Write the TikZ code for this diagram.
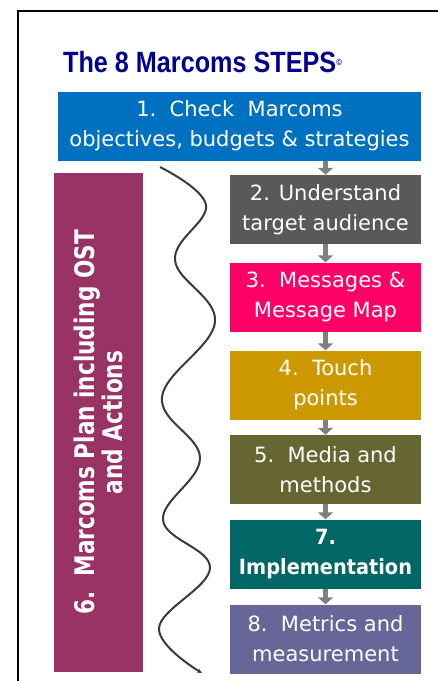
\documentclass[tikz,border=0pt]{standalone}
\usepackage{fontspec}
\setmainfont{DejaVu Sans}
\newfontfamily\boxfont{DejaVu Sans}
\newfontfamily\boxboldfont{DejaVu Sans}[FakeStretch=0.92]
\newfontfamily\sidefont{DejaVu Sans}[FakeStretch=0.8]
\newfontfamily\titlefont{Liberation Sans}[FakeStretch=0.86]
\usetikzlibrary{arrows.meta, positioning, calc}

\definecolor{titleblue}{RGB}{0,0,140}
\definecolor{stepblue}{RGB}{0,112,192}
\definecolor{stepgray}{RGB}{89,89,89}
\definecolor{steppink}{RGB}{255,0,102}
\definecolor{stepgold}{RGB}{204,153,0}
\definecolor{stepolive}{RGB}{102,102,51}
\definecolor{stepteal}{RGB}{0,102,102}
\definecolor{stepviolet}{RGB}{102,102,153}
\definecolor{stepplum}{RGB}{153,51,102}
\definecolor{arrowgray}{RGB}{128,128,128}
\definecolor{wavegray}{RGB}{58,58,58}

\begin{document}
\begin{tikzpicture}[x=1pt,y=-1pt,
  stepbox/.style={fill=#1, text=white, minimum width=191pt, minimum height=69pt,
    inner sep=2pt, align=center, font=\boxfont\fontsize{21}{30}\selectfont},
  steparrow/.style={draw=arrowgray, line width=5.5pt, -{Triangle[length=7pt,width=15pt]}}]
\useasboundingbox (0,0) rectangle (438,681);

% Frame
\draw[line width=2pt] (18.3,681) -- (18.3,10.5) -- (438,10.5);

% Title
\node[anchor=base west, inner sep=0pt, text=titleblue,
  font=\titlefont\bfseries\fontsize{29.3}{30}\selectfont] (title) at (63,72)
  {The 8 Marcoms STEPS\raisebox{7pt}{\fontsize{9}{9}\selectfont\textcopyright}};

% Steps
\node[stepbox=stepblue, minimum width=363pt] (s1) at (239.5,126)
  {1.\ \ Check\ \ Marcoms\\objectives, budgets \& strategies};
\node[stepbox=stepgray] (s2) at (325.5,209.5) {2. Understand\\target audience};
\node[stepbox=steppink] (s3) at (325.5,297) {3.\ \ Messages \&\\Message Map};
\node[stepbox=stepgold] (s4) at (325.5,385) {4.\ \ Touch\\points};
\node[stepbox=stepolive] (s5) at (325.5,469.5) {5.\ \ Media and\\methods};
\node[stepbox=stepteal, font=\boxboldfont\bfseries\fontsize{21}{30}\selectfont] (s7) at (325.5,554) {7.\\Implementation};
\node[stepbox=stepviolet] (s8) at (325.5,639) {8.\ \ Metrics and\\measurement};

% Side plan
\node[fill=stepplum, text=white, rotate=90, minimum width=499pt, minimum height=89pt,
  inner sep=2pt, align=center, font=\sidefont\bfseries\fontsize{27}{28}\selectfont]
  (s6) at (98.5,422.5) {6.\ \ Marcoms Plan including OST\\and Actions};

% Arrows
\draw[steparrow] (s1.south -| s2.north) -- (s2.north);
\draw[steparrow] (s2) -- (s3);
\draw[steparrow] (s3) -- (s4);
\draw[steparrow] (s4) -- (s5);
\draw[steparrow] (s5) -- (s7);
\draw[steparrow] (s7) -- (s8);

% Wave
\draw[wavegray, line width=2pt, -{Stealth[length=5pt,width=4.5pt]}]
  plot[smooth, tension=0.65] coordinates {(160,167) (206,205) (175,260) (215,322)
  (162,397) (200,458) (163,520) (210,568) (159,628) (202,673)};
\end{tikzpicture}
\end{document}
